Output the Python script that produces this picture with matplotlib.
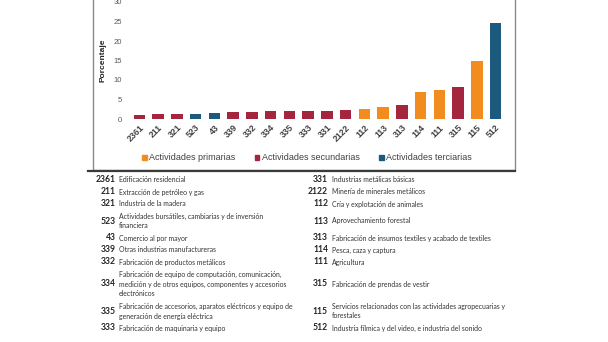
import matplotlib
matplotlib.use("Agg")
import matplotlib.pyplot as plt
from matplotlib.patches import Rectangle, Patch
from matplotlib.lines import Line2D

# datos de la grafica
codigos = ["2361", "211", "321", "523", "43", "339", "332", "334", "335", "333",
           "331", "2122", "112", "113", "313", "114", "111", "315", "115", "512"]
porcentaje = [1.15, 1.2, 1.2, 1.3, 1.5, 1.7, 1.8, 1.95, 1.95, 2.0,
              2.1, 2.3, 2.6, 3.1, 3.6, 7.0, 7.5, 8.2, 14.8, 24.5]
sector = ["s", "s", "s", "t", "t", "s", "s", "s", "s", "s",
          "s", "s", "p", "p", "s", "p", "p", "s", "p", "t"]
nombres_sector = {"p": "Actividades primarias",
                  "s": "Actividades secundarias",
                  "t": "Actividades terciarias"}
colores = {"p": "#F28C1E", "s": "#A3263E", "t": "#1B5A7D"}

# tabla de descripciones (columna izquierda y derecha)
cod_izq = ["2361", "211", "321", "523", "43", "339", "332", "334", "335", "333"]
desc_izq = ["Edificación residencial",
            "Extracción de petróleo y gas",
            "Industria de la madera",
            "Actividades bursátiles, cambiarias y de inversión\nfinanciera",
            "Comercio al por mayor",
            "Otras industrias manufactureras",
            "Fabricación de productos metálicos",
            "Fabricación de equipo de computación, comunicación,\nmedición y de otros equipos, componentes y accesorios\nelectrónicos",
            "Fabricación de accesorios, aparatos eléctricos y equipo de\ngeneración de energía eléctrica",
            "Fabricación de maquinaria y equipo"]
cod_der = ["331", "2122", "112", "113", "313", "114", "111", "315", "115", "512"]
desc_der = ["Industrias metálicas básicas",
            "Minería de minerales metálicos",
            "Cría y explotación de animales",
            "Aprovechamiento forestal",
            "Fabricación de insumos textiles y acabado de textiles",
            "Pesca, caza y captura",
            "Agricultura",
            "Fabricación de prendas de vestir",
            "Servicios relacionados con las actividades agropecuarias y\nforestales",
            "Industria fílmica y del video, e industria del sonido"]

W, H = 608, 342
fig = plt.figure(figsize=(W / 100, H / 100), dpi=100)
plt.rcParams['font.family'] = ['Liberation Sans', 'DejaVu Sans']

def fx(px):
    return px / W

def fy(py):
    return 1 - py / H

# marco del grafico
fig.patches.append(Rectangle((fx(93), fy(170)), fx(515) - fx(93), fy(-5) - fy(170),
                             transform=fig.transFigure, fill=False,
                             edgecolor="#8a8a8a", lw=1.0))
fig.add_artist(Line2D([fx(88), fx(515)], [fy(170.5), fy(170.5)],
                      transform=fig.transFigure, color="#3a3a3a", lw=1.6))

ax = fig.add_axes([fx(130), fy(119), fx(505) - fx(130), fy(2) - fy(119)])
x = list(range(len(codigos)))
ax.bar(x, porcentaje, width=0.62, color=[colores[s] for s in sector])
ax.set_xlim(-0.5, len(codigos) - 0.5)
ax.set_ylim(0, 30)
ax.set_yticks(range(0, 31, 5))
ax.axhline(0, color="#d9d9d9", lw=0.6, zorder=0)
for sp in ax.spines.values():
    sp.set_visible(False)
ax.tick_params(length=0)
ax.tick_params(axis="y", labelsize=5.5, labelcolor="#595959", pad=6)
ax.set_xticks(x)
ax.set_xticklabels(codigos, rotation=45, ha="right", rotation_mode="anchor",
                   fontsize=6.3, fontweight="bold", color="#404040")
ax.tick_params(axis="x", pad=3)
ax.set_ylabel("Porcentaje", fontsize=6, fontweight="bold", color="#262626", labelpad=5)

handles = [Patch(color=colores[k], label=nombres_sector[k]) for k in ["p", "s", "t"]]
ax.legend(handles=handles, loc="center", bbox_to_anchor=(0.472, -0.333), ncol=3,
          frameon=False, fontsize=6.5, handlelength=0.5, handleheight=0.5,
          handletextpad=0.25, columnspacing=2.2, labelcolor="#404040")

# tabla de codigos
linea = 10
y0 = 174
for i in range(len(cod_izq)):
    li = desc_izq[i].split("\n")
    ld = desc_der[i].split("\n")
    n = max(len(li), len(ld))
    alto = n * linea + 2
    yc = y0 + alto / 2
    for cod, desc, xc, xd in [(cod_izq[i], li, 115.5, 119), (cod_der[i], ld, 328, 332)]:
        fig.text(fx(xc), fy(yc), cod, ha="right", va="center", fontsize=6.2,
                 fontweight="bold", color="#262626", family="Lato")
        m = len(desc)
        for j, t in enumerate(desc):
            yl = yc + (j - (m - 1) / 2) * linea
            fig.text(fx(xd), fy(yl), t, ha="left", va="center", fontsize=4.95,
                     color="#333333", family="Lato")
    y0 += alto

fig.savefig("out.png", dpi=100)
